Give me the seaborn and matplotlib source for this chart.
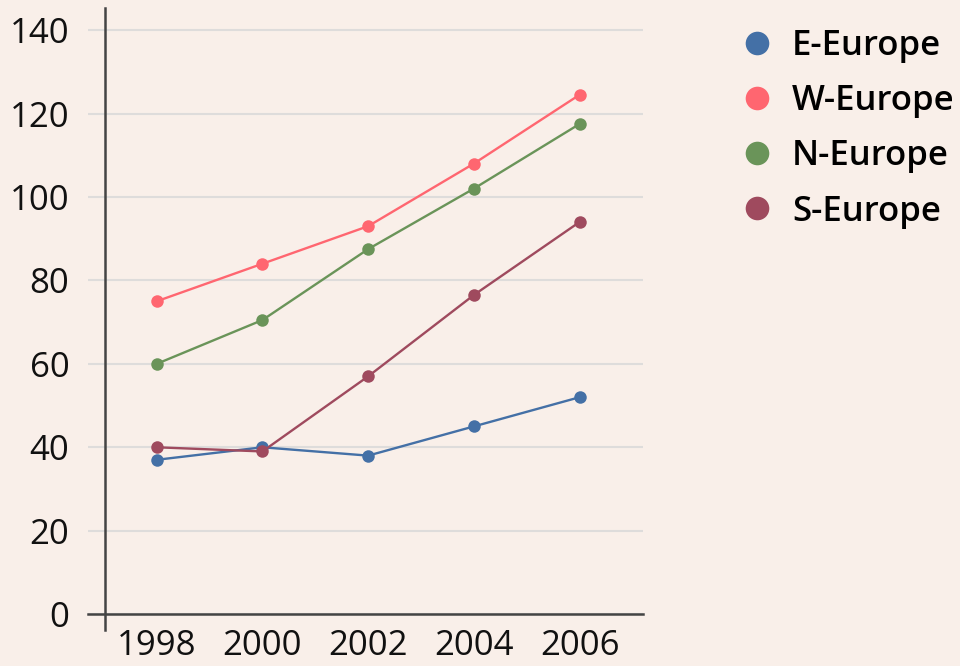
import matplotlib
matplotlib.use("Agg")
import matplotlib.pyplot as plt
from matplotlib.lines import Line2D
import seaborn as sns
import pandas as pd

years = [1998, 2000, 2002, 2004, 2006]
regions = ["E-Europe", "W-Europe", "N-Europe", "S-Europe"]
e_europe = [37, 40, 38, 45, 52]
w_europe = [75, 84, 93, 108, 124.5]
n_europe = [60, 70.5, 87.5, 102, 117.5]
s_europe = [40, 39, 57, 76.5, 94]
colors = ["#4470a6", "#ff6670", "#6a9459", "#9f4a5e"]
y_ticks = [0, 20, 40, 60, 80, 100, 120, 140]

series = [e_europe, w_europe, n_europe, s_europe]
df = pd.DataFrame({
    "year": years * len(regions),
    "value": [v for s in series for v in s],
    "region": [r for r in regions for _ in years],
})

sns.set_theme(style="white")
plt.rcParams["font.family"] = ["Open Sans", "DejaVu Sans"]
bg = "#f9efe9"

fig = plt.figure(figsize=(9.6, 6.66), dpi=100, facecolor=bg)
ax = fig.add_axes([88 / 960, 1 - 630 / 666, (643 - 88) / 960, (630 - 8) / 666])
ax.set_facecolor(bg)

for y in y_ticks:
    ax.axhline(y, color="#dedcdb", linewidth=1.5, zorder=0)

sns.lineplot(data=df, x="year", y="value", hue="region", hue_order=regions,
             palette=colors, marker="o", markersize=9, markeredgewidth=0,
             linewidth=1.7, ax=ax, legend=False, zorder=3)

ax.set_xlim(1996.7, 2007.2)
ax.set_ylim(-3.8, 145.3)
ax.set_xticks(years)
ax.set_xticklabels([str(y) for y in years])
ax.set_yticks(y_ticks)
ax.set_xlabel("")
ax.set_ylabel("")
ax.tick_params(axis="both", length=0, labelsize=25, colors="#111111", labelcolor="#111111")
ax.tick_params(axis="y", pad=26)
ax.tick_params(axis="x", pad=11)

for s in ["top", "right"]:
    ax.spines[s].set_visible(False)
ax.spines["left"].set_position(("data", 1997.03))
ax.spines["bottom"].set_position(("data", 0))
for s in ["left", "bottom"]:
    ax.spines[s].set_color("#444444")
    ax.spines[s].set_linewidth(1.8)

handles = [Line2D([], [], marker="o", linestyle="none", markersize=17,
                  markerfacecolor=c, markeredgewidth=0) for c in colors]
leg = fig.legend(handles, regions, loc="upper left", bbox_to_anchor=(740 / 960, 1 - 29 / 666),
                 frameon=False, prop={"weight": "semibold", "size": 25},
                 handletextpad=0.5, labelspacing=0.61, handlelength=1.0,
                 borderpad=0, borderaxespad=0)
for t in leg.get_texts():
    t.set_color("black")

fig.savefig("out.png", dpi=100, facecolor=bg)
